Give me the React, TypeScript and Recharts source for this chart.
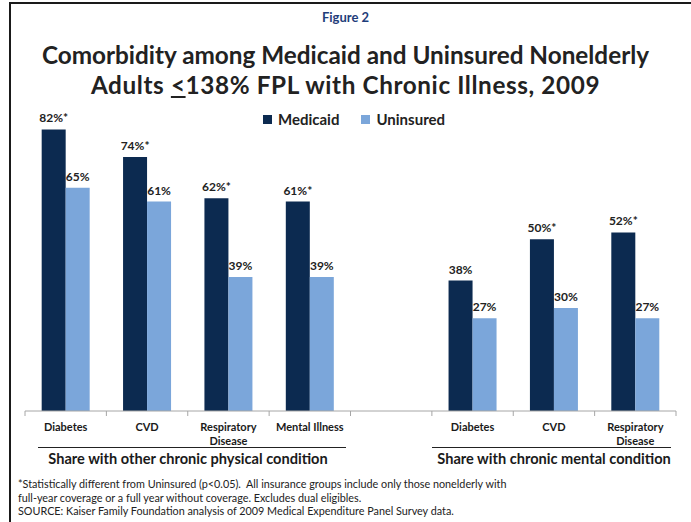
import React from "react";
import { BarChart, Bar, XAxis, YAxis, LabelList } from "recharts";

const categories = [
  "Diabetes",
  "CVD",
  "Respiratory\nDisease",
  "Mental Illness",
  "",
  "Diabetes",
  "CVD",
  "Respiratory\nDisease",
];
const medicaid: (number | null)[] = [82, 74, 62, 61, null, 38, 50, 52];
const uninsured: (number | null)[] = [65, 61, 39, 39, null, 27, 30, 27];
// significant difference vs. uninsured (p<0.05)
const medicaidSig = [true, true, true, true, false, false, true, true];

const MEDICAID = "#0c2a50";
const UNINSURED = "#7ba6da";
const FONT = "Lato, 'Open Sans', sans-serif";

const data = categories.map((c, i) => ({
  name: c,
  medicaid: medicaid[i],
  uninsured: uninsured[i],
  medicaidLabel: medicaid[i] == null ? "" : `${medicaid[i]}%${medicaidSig[i] ? "*" : ""}`,
  uninsuredLabel: uninsured[i] == null ? "" : `${uninsured[i]}%`,
}));

const N = categories.length;

function CategoryTick(props: any) {
  const { x, y, payload, index } = props;
  const band = 651 / N;
  const lines = String(payload.value).split("\n");
  return (
    <g>
      <line x1={x - band / 2} x2={x - band / 2} y1={y - 8} y2={y - 3} stroke="#a6a6a6" />
      {index === N - 1 && (
        <line x1={x + band / 2} x2={x + band / 2} y1={y - 8} y2={y - 3} stroke="#a6a6a6" />
      )}
      <text
        x={x}
        y={y + 12}
        textAnchor="middle"
        fontFamily={FONT}
        fontWeight={700}
        fontSize={11}
        fill="#1a1a1a"
      >
        {lines.map((l, i) => (
          <tspan key={i} x={x} dy={i === 0 ? 0 : 14}>
            {l}
          </tspan>
        ))}
      </text>
    </g>
  );
}

const labelProps = {
  position: "top" as const,
  offset: 7,
  fontFamily: FONT,
  fontWeight: 700,
  fontSize: 12,
  fill: "#222",
};

export default function App() {
  return (
    <div
      style={{
        position: "absolute",
        left: 0,
        top: 0,
        width: 691,
        height: 522,
        background: "#fff",
        fontFamily: FONT,
        color: "#1a1a1a",
        overflow: "hidden",
      }}
    >
      {/* frame: top and left rules */}
      <div style={{ position: "absolute", left: 9, top: 2, width: 682, height: 2, background: "#1a1a1a" }} />
      <div style={{ position: "absolute", left: 9, top: 2, width: 2, height: 520, background: "#1a1a1a" }} />

      <div
        style={{
          position: "absolute",
          left: 0,
          width: 691,
          top: 9,
          textAlign: "center",
          fontWeight: 700,
          fontSize: 13,
          color: "#1f3d7a",
        }}
      >
        Figure 2
      </div>
      <div
        style={{
          position: "absolute",
          left: 0,
          width: 691,
          top: 40,
          textAlign: "center",
          fontWeight: 700,
          fontSize: 24.3,
          lineHeight: "30px",
          color: "#222",
        }}
      >
        Comorbidity among Medicaid and Uninsured Nonelderly
        <br />
        <span style={{ letterSpacing: 0.6 }}>
          Adults <span style={{ textDecoration: "underline" }}>&lt;</span>138% FPL with Chronic Illness, 2009
        </span>
      </div>

      {/* legend */}
      <div
        style={{
          position: "absolute",
          left: 263,
          top: 110,
          display: "flex",
          alignItems: "center",
          fontWeight: 700,
          fontSize: 15,
          color: "#222",
        }}
      >
        <span style={{ width: 9, height: 9, background: MEDICAID, marginRight: 6 }} />
        <span style={{ marginRight: 22 }}>Medicaid</span>
        <span style={{ width: 9, height: 9, background: UNINSURED, marginRight: 6 }} />
        <span>Uninsured</span>
      </div>

      <div style={{ position: "absolute", left: 0, top: 0 }}>
        <BarChart
          width={691}
          height={522}
          data={data}
          margin={{ top: 102, right: 15, bottom: 71, left: 25 }}
          barCategoryGap="20.5%"
          barGap={0}
        >
          <YAxis hide domain={[0, 90]} width={0} />
          <XAxis
            dataKey="name"
            interval={0}
            height={40}
            tickLine={false}
            axisLine={{ stroke: "#a6a6a6" }}
            tick={<CategoryTick />}
          />
          <Bar dataKey="medicaid" fill={MEDICAID} isAnimationActive={false}>
            <LabelList dataKey="medicaidLabel" {...labelProps} />
          </Bar>
          <Bar dataKey="uninsured" fill={UNINSURED} isAnimationActive={false}>
            <LabelList dataKey="uninsuredLabel" {...labelProps} />
          </Bar>
        </BarChart>
      </div>

      {/* group captions */}
      <div style={{ position: "absolute", left: 38, top: 447, width: 308, height: 1, background: "#222" }} />
      <div
        style={{
          position: "absolute",
          left: 34,
          width: 308,
          top: 450,
          textAlign: "center",
          fontWeight: 700,
          fontSize: 14.6,
        }}
      >
        Share with other chronic physical condition
      </div>
      <div style={{ position: "absolute", left: 432, top: 447, width: 239, height: 1, background: "#222" }} />
      <div
        style={{
          position: "absolute",
          left: 432,
          width: 244,
          top: 450,
          textAlign: "center",
          fontWeight: 700,
          fontSize: 14.6,
        }}
      >
        Share with chronic mental condition
      </div>

      {/* footnotes */}
      <div
        style={{
          position: "absolute",
          left: 18,
          top: 477,
          fontSize: 10.8,
          lineHeight: "13.5px",
          color: "#222",
        }}
      >
        *Statistically different from Uninsured (p&lt;0.05).&nbsp; All insurance groups include only those nonelderly with
        <br />
        full-year coverage or a full year without coverage. Excludes dual eligibles.
        <br />
        SOURCE: Kaiser Family Foundation analysis of 2009 Medical Expenditure Panel Survey data.
      </div>
    </div>
  );
}
